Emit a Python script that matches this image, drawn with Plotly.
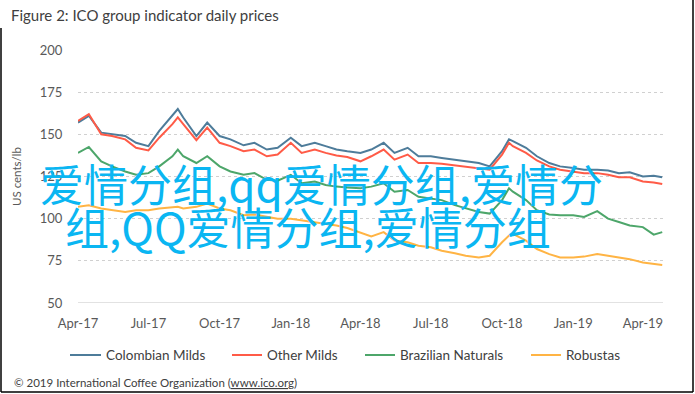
import plotly.graph_objects as go

dates = ["2017-04-01","2017-04-15","2017-05-01","2017-05-15","2017-06-01","2017-06-15","2017-07-01","2017-07-15",
         "2017-08-01","2017-08-08","2017-08-15","2017-09-01","2017-09-15","2017-10-01","2017-10-15","2017-11-01",
         "2017-11-15","2017-12-01","2017-12-15",
         "2018-01-01","2018-01-15","2018-02-01","2018-02-15","2018-03-01","2018-03-15","2018-04-01","2018-04-15",
         "2018-05-01","2018-05-15","2018-06-01","2018-06-15","2018-07-01","2018-07-15","2018-08-01","2018-08-15",
         "2018-09-01","2018-09-15","2018-10-01","2018-10-10","2018-10-15","2018-11-01","2018-11-15","2018-12-01",
         "2018-12-15",
         "2019-01-01","2019-01-15","2019-02-01","2019-02-15","2019-03-01","2019-03-15","2019-04-01","2019-04-15",
         "2019-04-26"]

colombian_milds = [157,161,151,150,149,145,143,152,161,165,160,149,157,149,147,143.5,145,141,142,
                   148,143,145,143,141,140,139,141,145,139,142,137,137,136,135,134,133,131,140,147,146,142,137,133,131,
                   130,129,129,128.5,127,127.5,125,125.5,124.5]
other_milds = [158,162,150,149,147,142,140.5,148,156,160,156,146.5,154,145,143,140,141,137,138,
               145,139,141,139,137.5,136.5,134,137,141,135,138,133,133,132.5,131.5,131,130,129,138,145,143,139,134.5,131,129,
               128,127,127,126,124.5,124.5,122,121.5,120.5]
brazilian_naturals = [139,142.5,134,131,128,126,127,131,137,141,137,133,137,131,128,126,127,123,122.5,
                      126,121,122,120,119,118.5,118,119,121,116,117,113,112,111,108,106,104,103,111,118,116,111,105,102.5,102,
                      102,101,104.5,100,98,96,95,90.5,92]
robustas = [107,108,106,105,104,105,105,106,107,107,106,107,109,106,105,102,102.5,101,100,
            100,99,98,97,96,94.5,91.5,89.5,92,87,86,84,83,81,79.5,78,77,78,86,90,91,87,82,79,77,
            77,77.5,79,78,77,76,74,73,72.5]

tick_dates = ["2017-04-01","2017-07-01","2017-10-01","2018-01-01","2018-04-01","2018-07-01","2018-10-01","2019-01-01","2019-04-01"]
tick_labels = ["Apr-17","Jul-17","Oct-17","Jan-18","Apr-18","Jul-18","Oct-18","Jan-19","Apr-19"]
y_ticks = [50, 75, 100, 125, 150, 175, 200]

series_names = ["Colombian Milds", "Other Milds", "Brazilian Naturals", "Robustas"]
series_values = [colombian_milds, other_milds, brazilian_naturals, robustas]
series_colors = ["#4E7C9A", "#FF5B47", "#4DA66A", "#FFB444"]

# plot area pixel geometry: x 78..663, y 50..303
L, R, T, B = 78, 663, 50, 303
W, H = R - L, B - T
def px(x):
    return (x - L) / W
def py(y):
    return (B - y) / H

fig = go.Figure()
for name, vals, col in zip(series_names, series_values, series_colors):
    fig.add_trace(go.Scatter(x=dates, y=vals, name=name, mode="lines",
                             line=dict(color=col, width=2), showlegend=False))

fig.update_layout(
    width=695, height=394,
    margin=dict(l=L, r=695 - R, t=T, b=394 - B),
    paper_bgcolor="white", plot_bgcolor="white",
    font=dict(family="Lato, 'Open Sans', sans-serif", color="#595959"),
    showlegend=False,
    xaxis=dict(type="date", range=["2017-04-01", "2019-04-27"],
               tickvals=tick_dates, ticktext=tick_labels,
               showgrid=False, zeroline=False, showline=False,
               ticks="outside", ticklen=8, tickcolor="rgba(0,0,0,0)",
               tickfont=dict(size=13, color="#595959")),
    yaxis=dict(range=[50, 200], tickvals=y_ticks,
               showgrid=True, gridcolor="#D0D0D0", griddash="dot", gridwidth=1,
               zeroline=False, showline=False,
               ticks="outside", ticklen=12, tickcolor="rgba(0,0,0,0)",
               tickfont=dict(size=13, color="#595959")),
)

# solid baseline at 50
fig.add_shape(type="line", xref="paper", yref="y", x0=0, x1=1, y0=50, y1=50,
              line=dict(color="#D9D9D9", width=1.5))

# outer frame
frame = dict(color="black", width=1.5)
fig.add_shape(type="line", xref="paper", yref="paper", x0=px(1), x1=px(1), y0=py(28), y1=py(392), line=frame)
fig.add_shape(type="line", xref="paper", yref="paper", x0=px(1), x1=px(693), y0=py(392), y1=py(392), line=frame)
fig.add_shape(type="line", xref="paper", yref="paper", x0=px(693), x1=px(693), y0=py(0), y1=py(392), line=frame)

annotations = [
    dict(text="Figure 2: ICO group indicator daily prices", x=px(9), y=py(15), xanchor="left", yanchor="middle",
         font=dict(size=15, color="#404040")),
    dict(text="US cents/lb", x=px(16), y=py(177), xanchor="center", yanchor="middle", textangle=-90,
         font=dict(size=11.5, color="#595959")),
    dict(text="© 2019 International Coffee Organization (<u>www.ico.org</u>)", x=px(12), y=py(382),
         xanchor="left", yanchor="middle", font=dict(size=11.5, color="#404040")),
]

# manual legend (line sample + label)
legend_line_x = [(70, 101), (232, 262), (365, 395), (531, 561)]
legend_text_x = [104, 265, 398, 564]
legend_y = 355
for name, col, (a, b), tx in zip(series_names, series_colors, legend_line_x, legend_text_x):
    fig.add_shape(type="line", xref="paper", yref="paper", x0=px(a), x1=px(b), y0=py(legend_y), y1=py(legend_y),
                  line=dict(color=col, width=2))
    annotations.append(dict(text=name, x=px(tx), y=py(legend_y), xanchor="left", yanchor="middle",
                            font=dict(size=13.5, color="#404040")))

annotations += [
    dict(text="爱情分组,qq爱情分组,爱情分", x=px(38), y=py(183), xanchor="left", yanchor="middle",
         font=dict(size=44, color="#0AB6F2", family="Noto Sans CJK SC")),
    dict(text="组,QQ爱情分组,爱情分组", x=px(63), y=py(226), xanchor="left", yanchor="middle",
         font=dict(size=44, color="#0AB6F2", family="Noto Sans CJK SC")),
]
for a in annotations:
    a.update(xref="paper", yref="paper", showarrow=False)
fig.update_layout(annotations=annotations)

fig.write_html("out.html", config={"displayModeBar": False},
               post_script="document.body.style.margin='0px';")
